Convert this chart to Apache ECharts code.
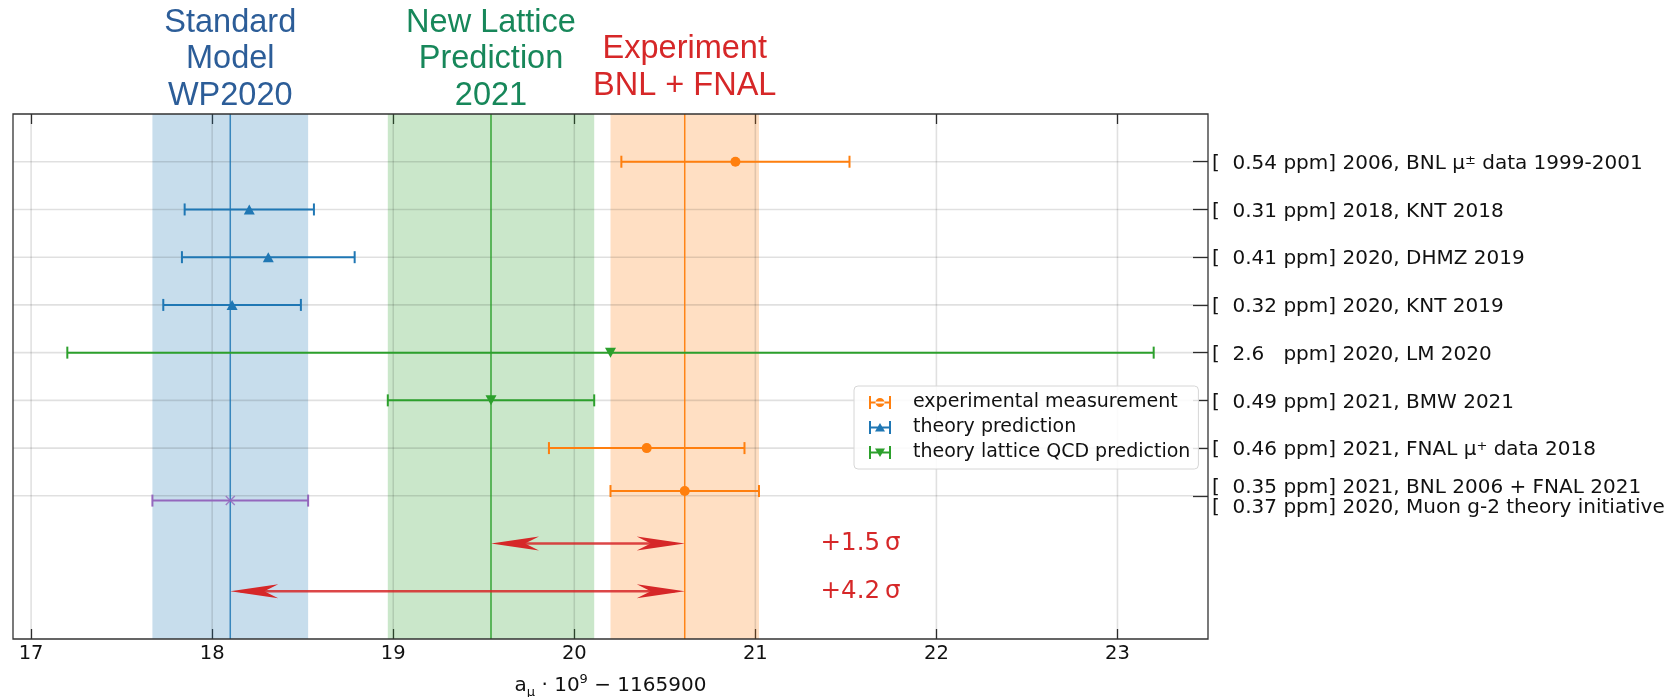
<!DOCTYPE html>
<html>
<head>
<meta charset="utf-8">
<script src="https://cdn.jsdelivr.net/npm/echarts@6/dist/echarts.min.js"></script>
<style>
  html, body { margin: 0; padding: 0; background: #fff; }
  #main { width: 1674px; height: 697px; }
</style>
</head>
<body>
<div id="main"></div>
<script>
// rows run top -> bottom, labels sit on the right axis
var rowTicks = [0, 1, 2, 3, 4, 5, 6, 7];
var rowLabels = [
  '[  0.54 ppm] 2006, BNL μ{sup|±} data 1999-2001',
  '[  0.31 ppm] 2018, KNT 2018',
  '[  0.41 ppm] 2020, DHMZ 2019',
  '[  0.32 ppm] 2020, KNT 2019',
  '[  2.6   ppm] 2020, LM 2020',
  '[  0.49 ppm] 2021, BMW 2021',
  '[  0.46 ppm] 2021, FNAL μ{sup|+} data 2018',
  '[  0.35 ppm] 2021, BNL 2006 + FNAL 2021\n[  0.37 ppm] 2020, Muon g-2 theory initiative'
];
var xTicks = [17, 18, 19, 20, 21, 22, 23];

// a_mu * 1e9 - 1165900, with errors
var expRows = [0, 6, 6.9];
var expVal = [20.89, 20.40, 20.61];
var expErr = [0.63, 0.54, 0.41];

var thRows = [1, 2, 3];
var thVal = [18.205, 18.31, 18.11];
var thErr = [0.357, 0.477, 0.38];

var latRows = [4, 5];
var latVal = [20.2, 19.54];
var latErr = [3.0, 0.57];

var wpRows = [7.1];
var wpVal = [18.10];
var wpErr = [0.43];

// shaded bands: WP2020, BMW 2021, BNL+FNAL
var bandCenter = [18.10, 19.54, 20.61];
var bandHalf = [0.43, 0.57, 0.41];
var bandFill = ['rgba(31,119,180,0.25)', 'rgba(44,160,44,0.25)', 'rgba(255,127,14,0.25)'];
var bandLine = ['rgba(31,119,180,0.85)', 'rgba(44,160,44,0.7)', 'rgba(255,127,14,0.95)'];

var titleText = ['Standard\nModel\nWP2020', 'New Lattice\nPrediction\n2021', 'Experiment\nBNL + FNAL'];
var titleColor = ['#2c5d98', '#17875a', '#d62728'];

// tension arrows
var arrowFrom = [19.54, 18.10];
var arrowTo = [20.61, 20.61];
var arrowRows = [8, 9];
var sigmaText = ['+1.5\u2009σ', '+4.2\u2009σ'];
var sigmaX = [21.36, 21.36];

var FONT = 'DejaVu Sans';
var C_EXP = '#ff7f0e', C_TH = '#1f77b4', C_LAT = '#2ca02c', C_WP = '#9467bd';

function zipErr(rows, val, err) {
  return rows.map(function (r, i) { return [val[i] - err[i], val[i] + err[i], r]; });
}
function zipPts(rows, val) {
  return rows.map(function (r, i) { return [val[i], r]; });
}

function errRender(color) {
  return function (params, api) {
    var y = api.value(2);
    var a = api.coord([api.value(0), y]);
    var b = api.coord([api.value(1), y]);
    var st = { stroke: color, lineWidth: 2 };
    return {
      type: 'group',
      children: [
        { type: 'line', shape: { x1: a[0], y1: a[1], x2: b[0], y2: b[1] }, style: st },
        { type: 'line', shape: { x1: a[0], y1: a[1] - 6, x2: a[0], y2: a[1] + 6 }, style: st },
        { type: 'line', shape: { x1: b[0], y1: b[1] - 6, x2: b[0], y2: b[1] + 6 }, style: st }
      ]
    };
  };
}

function errSeries(name, rows, val, err, color) {
  return {
    type: 'custom', name: name, z: 4, silent: true,
    renderItem: errRender(color),
    data: zipErr(rows, val, err)
  };
}

function head(tip, dir) {
  var L = 48, W = 7, N = 14;
  return {
    type: 'polygon',
    shape: { points: [
      [tip[0], tip[1]],
      [tip[0] - dir * L, tip[1] - W],
      [tip[0] - dir * (L - N), tip[1]],
      [tip[0] - dir * L, tip[1] + W]
    ] },
    style: { fill: '#d62728' }
  };
}

var gridData = xTicks.map(function (v) { return [v, 0]; })
  .concat(rowTicks.map(function (r) { return [r, 1]; }));

var option = {
  animation: false,
  grid: {
    left: 13, top: 114, width: 1195, height: 525, outerBoundsMode: 'none', containLabel: false,
    show: true, borderColor: '#333', borderWidth: 1.3, z: 10
  },
  legend: {
    left: 854, top: 386, orient: 'vertical', selectedMode: false, z: 20,
    backgroundColor: 'rgba(255,255,255,0.85)', borderColor: '#d6d6d6', borderWidth: 1, borderRadius: 4,
    padding: [7, 8, 7, 15], itemWidth: 22, itemHeight: 13, itemGap: 6,
    textStyle: { fontFamily: FONT, fontSize: 19, color: '#111', lineHeight: 18, padding: [0, 0, 0, 17] },
    data: [
      { name: 'experimental measurement', icon: 'path://M0,0h2v13h-2z M20,0h2v13h-2z M2,5.6h18v1.8h-18z M6.5,6.5a4.5,4.5 0 1,0 9,0a4.5,4.5 0 1,0 -9,0z' },
      { name: 'theory prediction', icon: 'path://M0,0h2v13h-2z M20,0h2v13h-2z M2,5.6h18v1.8h-18z M6,10.5 L11,2 L16,10.5z' },
      { name: 'theory lattice QCD prediction', icon: 'path://M0,0h2v13h-2z M20,0h2v13h-2z M2,5.6h18v1.8h-18z M6,2.5 L16,2.5 L11,11z' }
    ]
  },
  xAxis: [{
    type: 'value', min: 16.9, max: 23.5, position: 'bottom',
    axisLine: { show: false, onZero: false },
    axisTick: { customValues: xTicks, inside: true, length: 10, lineStyle: { color: '#333', width: 1.3 } },
    axisLabel: { customValues: xTicks, fontFamily: FONT, fontSize: 19.5, color: '#111', margin: 5 },
    splitLine: { show: false },
    name: '{b|a}{sub|μ}{b| · 10}{sup|9}{b| − 1165900}',
    nameLocation: 'middle', nameGap: 34,
    nameTextStyle: {
      fontFamily: FONT, fontSize: 20, color: '#111',
      rich: {
        b: { fontFamily: FONT, fontSize: 20, color: '#111', lineHeight: 26 },
        sub: { fontFamily: FONT, fontSize: 13, color: '#111', verticalAlign: 'bottom', lineHeight: 14 },
        sup: { fontFamily: FONT, fontSize: 13, color: '#111', verticalAlign: 'top', lineHeight: 14 }
      }
    }
  }, {
    type: 'value', min: 16.9, max: 23.5, position: 'top',
    axisLine: { show: false, onZero: false },
    axisTick: { customValues: xTicks, inside: true, length: 10, lineStyle: { color: '#333', width: 1.3 } },
    axisLabel: { show: false },
    splitLine: { show: false }
  }],
  yAxis: [{
    type: 'value', inverse: true, min: -1, max: 10, position: 'right',
    axisLine: { show: false, onZero: false },
    axisTick: { customValues: rowTicks, inside: true, length: 15, lineStyle: { color: '#333', width: 1.3 } },
    axisLabel: {
      customValues: rowTicks, fontFamily: FONT, fontSize: 20, color: '#111', margin: 4, lineHeight: 20,
      padding: [4, 0, 0, 0],
      formatter: function (v) { return rowLabels[v] || ''; },
      rich: { sup: { fontFamily: FONT, fontSize: 13, color: '#111', verticalAlign: 'top', lineHeight: 13 } }
    },
    splitLine: { show: false }
  }],
  series: [
    {
      type: 'custom', name: 'bands', z: 1, silent: true,
      data: bandCenter.map(function (c, i) { return [c - bandHalf[i], c + bandHalf[i]]; }),
      renderItem: function (params, api) {
        var a = api.coord([api.value(0), -1]);
        var b = api.coord([api.value(1), 10]);
        return { type: 'rect', shape: { x: a[0], y: a[1], width: b[0] - a[0], height: b[1] - a[1] },
          style: { fill: bandFill[params.dataIndex] } };
      }
    },
    {
      type: 'custom', name: 'grid', z: 2, silent: true,
      data: gridData,
      renderItem: function (params, api) {
        var v = api.value(0), a, b;
        if (api.value(1) === 0) { a = api.coord([v, -1]); b = api.coord([v, 10]); }
        else { a = api.coord([16.9, v]); b = api.coord([23.5, v]); }
        return { type: 'line', shape: { x1: a[0], y1: a[1], x2: b[0], y2: b[1] },
          style: { stroke: 'rgba(0,0,0,0.12)', lineWidth: 1.6 } };
      }
    },
    {
      type: 'custom', name: 'centres', z: 3, silent: true,
      data: bandCenter.map(function (c) { return [c, 0]; }),
      renderItem: function (params, api) {
        var a = api.coord([api.value(0), -1]);
        var b = api.coord([api.value(0), 10]);
        return { type: 'line', shape: { x1: a[0], y1: a[1], x2: b[0], y2: b[1] },
          style: { stroke: bandLine[params.dataIndex], lineWidth: params.dataIndex === 1 ? 2 : 1.5 } };
      }
    },
    errSeries('err-exp', expRows, expVal, expErr, C_EXP),
    errSeries('err-th', thRows, thVal, thErr, C_TH),
    errSeries('err-lat', latRows, latVal, latErr, C_LAT),
    errSeries('err-wp', wpRows, wpVal, wpErr, C_WP),
    { type: 'scatter', name: 'experimental measurement', z: 5, symbol: 'circle', symbolSize: 10,
      itemStyle: { color: C_EXP, opacity: 1 }, data: zipPts(expRows, expVal) },
    { type: 'scatter', name: 'theory prediction', z: 5, symbol: 'triangle', symbolSize: [11, 10],
      itemStyle: { color: C_TH, opacity: 1 }, data: zipPts(thRows, thVal) },
    { type: 'scatter', name: 'theory lattice QCD prediction', z: 5, symbol: 'triangle', symbolRotate: 180, symbolSize: [11, 10],
      itemStyle: { color: C_LAT, opacity: 1 }, data: zipPts(latRows, latVal) },
    { type: 'scatter', name: 'wp', z: 5,
      symbol: 'path://M0,1L1,0L5,4L9,0L10,1L6,5L10,9L9,10L5,6L1,10L0,9L4,5Z', symbolSize: 10,
      itemStyle: { color: C_WP, opacity: 0.8 }, data: zipPts(wpRows, wpVal) },
    {
      type: 'custom', name: 'arrows', z: 6, silent: true,
      data: arrowRows.map(function (r, i) { return [arrowFrom[i], arrowTo[i], r]; }),
      renderItem: function (params, api) {
        var y = api.value(2);
        var a = api.coord([api.value(0), y]);
        var b = api.coord([api.value(1), y]);
        return { type: 'group', children: [
          { type: 'line', shape: { x1: a[0] + 10, y1: a[1], x2: b[0] - 10, y2: b[1] },
            style: { stroke: 'rgba(214,39,40,0.85)', lineWidth: 2.5 } },
          head(b, 1), head(a, -1)
        ] };
      }
    },
    {
      type: 'custom', name: 'sigma', z: 6, silent: true,
      data: arrowRows.map(function (r, i) { return [sigmaX[i], r]; }),
      renderItem: function (params, api) {
        var p = api.coord([api.value(0), api.value(1)]);
        return { type: 'text', style: { text: sigmaText[params.dataIndex], x: p[0], y: p[1],
          fill: '#d62728', fontFamily: FONT, fontSize: 24.5, align: 'left', verticalAlign: 'middle' } };
      }
    },
    {
      type: 'custom', name: 'titles', z: 6, silent: true,
      data: bandCenter.map(function (c) { return [c, -1]; }),
      renderItem: function (params, api) {
        var p = api.coord([api.value(0), -1]);
        var lift = params.dataIndex === 2 ? 10 : 0;
        return { type: 'text', style: { text: titleText[params.dataIndex], x: p[0], y: p[1] - lift,
          fill: titleColor[params.dataIndex], fontFamily: 'Liberation Sans', fontSize: 32.5, lineHeight: 36.5,
          align: 'center', verticalAlign: 'bottom' } };
      }
    }
  ]
};

var chart = echarts.init(document.getElementById('main'));
chart.setOption(option);
</script>
</body>
</html>
